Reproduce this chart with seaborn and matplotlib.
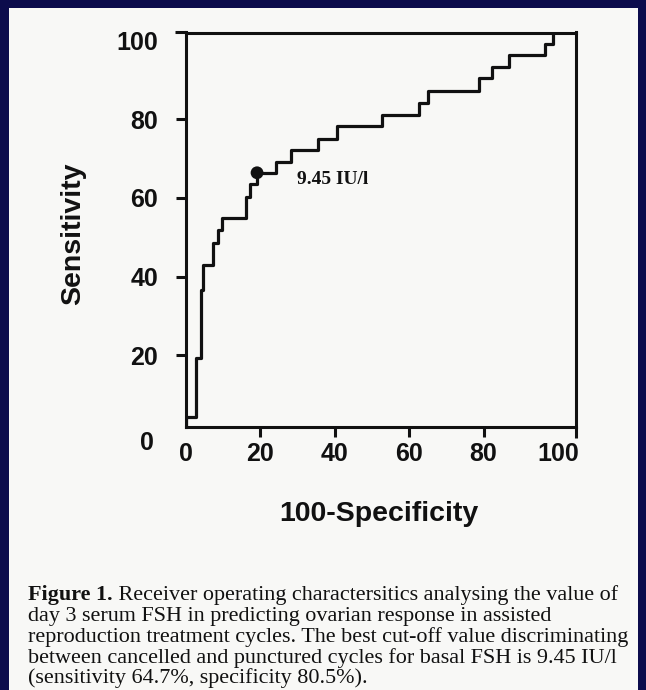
import matplotlib
matplotlib.use("Agg")
import matplotlib.pyplot as plt
from matplotlib.patches import Rectangle
import seaborn as sns
import pandas as pd

# ---- data (100-specificity vs sensitivity, step ROC) ----
fpr = [0, 0, 2.7, 4.0, 4.7, 7.2, 8.7, 9.6, 16.1, 17.2, 19.1, 24.2, 28.1, 35.5,
       40.5, 52.7, 62.6, 65.1, 78.8, 82.2, 86.8, 96.5, 98.7]
tpr = [0, 4.3, 19.3, 36.6, 42.9, 48.5, 51.8, 54.8, 60.3, 63.5, 66.4, 69.2, 72.2,
       75.1, 78.3, 81.2, 84.2, 87.3, 90.5, 93.3, 96.4, 99.3, 102.1]
cut_x = [19.1]
cut_y = [66.4]
cut_label = "9.45 IU/l"
x_ticks = [0, 20, 40, 60, 80, 100]
y_ticks = [20, 40, 60, 80, 100]
x_label = "100-Specificity"
y_label = "Sensitivity"
caption_bold = "Figure 1."
caption_lines = [
    " Receiver operating charactersitics analysing the value of",
    "day 3 serum FSH in predicting ovarian response in assisted",
    "reproduction treatment cycles. The best cut-off value discriminating",
    "between cancelled and punctured cycles for basal FSH is 9.45 IU/l",
    "(sensitivity 64.7%, specificity 80.5%).",
]

sns.set_theme(style="ticks")
plt.rcParams["font.family"] = ["Liberation Sans", "DejaVu Sans"]

W, H = 646, 690
NAVY = "#0c0c4c"
PAGE = "#f8f8f6"
INK = "#111111"
fig = plt.figure(figsize=(W / 100, H / 100), dpi=100, facecolor=NAVY)
fig.patches.append(Rectangle((9 / W, 0), (638 - 9) / W, (H - 8) / H,
                             transform=fig.transFigure, facecolor=PAGE,
                             edgecolor="none", zorder=-10))

L, R, T, B = 186, 576, 32.5, 427
ax = fig.add_axes([L / W, 1 - B / H, (R - L) / W, (B - T) / H])
ax.set_facecolor(PAGE)

df = pd.DataFrame({"fpr": fpr, "tpr": tpr})
sns.lineplot(data=df, x="fpr", y="tpr", estimator=None, sort=False,
             drawstyle="steps-post", color=INK, linewidth=2.3, ax=ax)
sns.scatterplot(x=cut_x, y=cut_y, color=INK, s=85, edgecolor="none",
                ax=ax, zorder=5)
ax.annotate(cut_label, xy=(cut_x[0], cut_y[0]), xytext=(29, -5),
            textcoords="offset points", ha="left", va="center",
            fontsize=14, fontweight="bold", family=["Liberation Serif"],
            color=INK)

ax.set_xlim(0, (R - L) / 3.72)
ax.set_ylim(1.7, 102.1)
ax.set_xticks(x_ticks)
ax.set_xticklabels([str(v) for v in x_ticks])
ax.set_yticks(y_ticks)
ax.set_yticklabels([str(v) for v in y_ticks])
# frame-corner ticks (as on the original artwork)
ax.set_xticks([ax.get_xlim()[1]], minor=True)
ax.set_yticks([ax.get_ylim()[1]], minor=True)
ax.tick_params(which="minor", length=8, width=2.2, color=INK)
xt = ax.xaxis.get_major_ticks()
xt[0].tick1line.set_visible(False)
xt[-1].tick1line.set_visible(False)
ax.yaxis.get_major_ticks()[-1].tick1line.set_visible(False)

for s in ax.spines.values():
    s.set_visible(True)
    s.set_linewidth(2.2)
    s.set_color(INK)
ax.tick_params(axis="both", which="major", direction="out", length=7.5,
               width=2.2, color=INK, labelsize=18, labelcolor=INK)
ax.tick_params(axis="x", pad=3.5)
ax.tick_params(axis="y", pad=12.5)
for lab in ax.get_xticklabels() + ax.get_yticklabels():
    lab.set_fontweight("bold")

# the "0" of the sensitivity axis (below the frame on the original)
fig.text(154 / W, 1 - 443 / H, "0", ha="right", va="center", fontsize=18,
         fontweight="bold", color=INK)

ax.set_xlabel(x_label, fontsize=20.5, fontweight="bold", color=INK)
ax.xaxis.set_label_coords((379 - L) / (R - L), (B - 514) / (B - T))
ax.xaxis.label.set_va("center")
ax.set_ylabel(y_label, fontsize=20.5, fontweight="bold", color=INK)
ax.yaxis.set_label_coords((73 - L) / (R - L), (B - 234) / (B - T))
ax.yaxis.label.set_va("center")

# ---- caption ----
renderer = fig.canvas.get_renderer()
probe = fig.text(0, 0, caption_lines[2], fontsize=10, family=["Liberation Serif"])
pw = probe.get_window_extent(renderer).width
probe.remove()
cap_fs = 10 * 600 / pw
line_y = [595, 616, 637, 658, 678]
x0 = 28 / W
tb = fig.text(x0, 1 - line_y[0] / H, caption_bold, fontsize=cap_fs,
              fontweight="bold", family=["Liberation Serif"], va="center",
              color=INK)
fig.canvas.draw()
bx = tb.get_window_extent(renderer).x1 / W
fig.text(bx, 1 - line_y[0] / H, caption_lines[0], fontsize=cap_fs,
         family=["Liberation Serif"], va="center", color=INK)
for yy, txt in zip(line_y[1:], caption_lines[1:]):
    fig.text(x0, 1 - yy / H, txt, fontsize=cap_fs, family=["Liberation Serif"],
             va="center", color=INK)

fig.savefig("out.png", dpi=100, facecolor=NAVY)
